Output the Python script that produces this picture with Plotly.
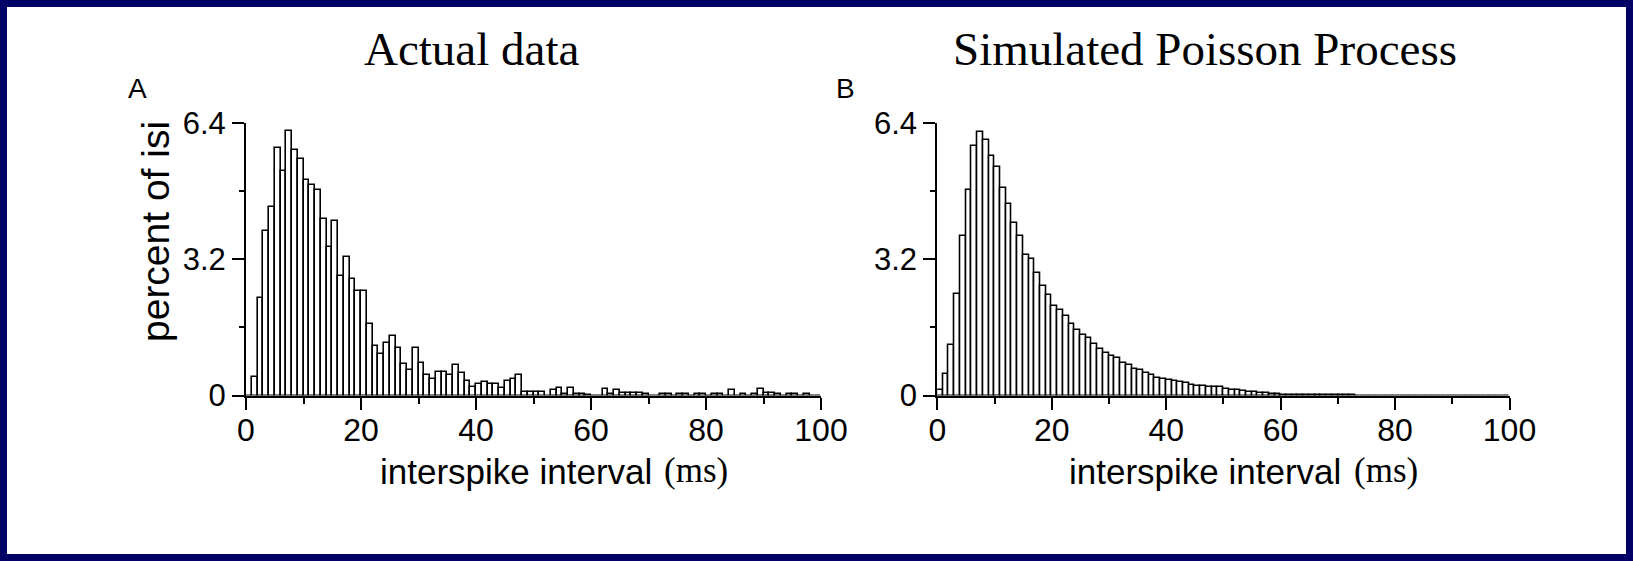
import plotly.graph_objects as go

W, H = 1633, 561

# ---------------- data ----------------
bin_left = list(range(100))  # 1 ms bins, 0..99 ms

actual_pct = [0, 0.43, 2.29, 3.87, 4.43, 5.82, 5.27, 6.22, 5.77, 5.56,
              5.06, 4.95, 4.83, 4.15, 3.48, 4.09, 2.81, 3.25, 2.73, 2.46,
              2.46, 1.68, 1.17, 0.98, 1.23, 1.39, 1.11, 0.73, 0.60, 1.12,
              0.77, 0.49, 0.39, 0.56, 0.56, 0.49, 0.71, 0.54, 0.33, 0.21,
              0.27, 0.31, 0.27, 0.27, 0.18, 0.34, 0.39, 0.49, 0.08, 0.08,
              0.08, 0.08, 0, 0.12, 0.18, 0.04, 0.18, 0.04, 0.04, 0.02,
              0, 0, 0.16, 0.03, 0.12, 0.05, 0.05, 0.05, 0.05, 0.04,
              0, 0, 0.04, 0.04, 0, 0.04, 0.04, 0, 0.04, 0.04,
              0, 0.04, 0.04, 0, 0.12, 0, 0.04, 0, 0.04, 0.16,
              0.05, 0.05, 0.04, 0, 0.04, 0.04, 0, 0.04, 0, 0]

poisson_pct = [0.12, 0.51, 1.18, 2.38, 3.75, 4.82, 5.87, 6.18, 5.99, 5.62,
               5.37, 4.87, 4.49, 4.04, 3.75, 3.31, 3.20, 2.87, 2.58, 2.37,
               2.10, 2.00, 1.87, 1.69, 1.55, 1.41, 1.35, 1.22, 1.10, 0.99,
               0.93, 0.88, 0.77, 0.71, 0.62, 0.59, 0.53, 0.48, 0.42, 0.38,
               0.37, 0.35, 0.31, 0.30, 0.24, 0.23, 0.22, 0.21, 0.20, 0.19,
               0.15, 0.13, 0.12, 0.10, 0.09, 0.09, 0.07, 0.05, 0.04, 0.03,
               0.02, 0.02, 0.02, 0.02, 0.02, 0.02, 0.01, 0.01, 0.01, 0.01,
               0.01, 0.01, 0.01, 0, 0, 0, 0, 0, 0, 0,
               0, 0, 0, 0, 0, 0, 0, 0, 0, 0,
               0, 0, 0, 0, 0, 0, 0, 0, 0, 0]

y_tickvals = [0, 3.2, 6.4]
y_ticktext = ["0", "3.2", "6.4"]
y_minor = [1.6, 4.8]
x_tickvals = [0, 20, 40, 60, 80, 100]
x_ticktext = ["0", "20", "40", "60", "80", "100"]

panel_titles = ["Actual data", "Simulated Poisson Process"]
panel_letters = ["A", "B"]
x_title = "interspike interval"
x_unit = "(ms)"
y_title = "percent of isi"

# ---------------- layout helpers (pixels -> paper) ----------------
def px(x):
    return x / W

def py(y):
    return 1 - y / H

SANS = "Liberation Sans, Arial, sans-serif"
SERIF = "Liberation Serif, Times New Roman, serif"

fig = go.Figure()

for k, vals in enumerate([actual_pct, poisson_pct]):
    xa = "x" if k == 0 else "x2"
    ya = "y" if k == 0 else "y2"
    fig.add_trace(go.Bar(
        x=[b + 0.5 for b in bin_left], y=vals, width=1,
        marker=dict(color="white", line=dict(color="black", width=1.6)),
        xaxis=xa, yaxis=ya, showlegend=False, hoverinfo="x+y"))

domA = [px(246), px(821)]
domB = [px(937.3), px(1509.5)]
domY = [py(395.5), py(123)]

def xaxis_cfg(dom, anchor):
    return dict(domain=dom, anchor=anchor, range=[0, 100], automargin=False,
                tickmode="array", tickvals=x_tickvals, ticktext=x_ticktext,
                ticks="outside", ticklen=12, tickwidth=2, tickcolor="black",
                showline=True, linewidth=2, linecolor="black",
                showgrid=False, zeroline=False,
                tickfont=dict(family=SANS, size=32, color="black"),
                ticklabelstandoff=-7,
                minor=dict(tickmode="array", tickvals=[10, 30, 50, 70, 90],
                           ticks="outside", ticklen=6, tickwidth=2,
                           tickcolor="black", showgrid=False))

def yaxis_cfg(dom, anchor):
    return dict(domain=dom, anchor=anchor, range=[0, 6.4], automargin=False,
                tickmode="array", tickvals=y_tickvals, ticktext=y_ticktext,
                ticks="outside", ticklen=12, tickwidth=2, tickcolor="black",
                showline=True, linewidth=2, linecolor="black",
                showgrid=False, zeroline=False,
                tickfont=dict(family=SANS, size=31, color="black"),
                minor=dict(tickmode="array", tickvals=y_minor,
                           ticks="outside", ticklen=5, tickwidth=2,
                           tickcolor="black", showgrid=False))

annotations = []
# panel titles
for cx, t in zip([471, 1205], panel_titles):
    annotations.append(dict(text=t, x=px(cx), y=py(49), xref="paper", yref="paper",
                            xanchor="center", yanchor="middle", showarrow=False,
                            font=dict(family=SERIF, size=47, color="black")))
# panel letters
for cx, t in zip([137, 845], panel_letters):
    annotations.append(dict(text=t, x=px(cx), y=py(88), xref="paper", yref="paper",
                            xanchor="center", yanchor="middle", showarrow=False,
                            font=dict(family=SANS, size=28, color="black")))
# x axis titles
for x0, x1 in [(378, 662), (1067, 1352)]:
    annotations.append(dict(text=x_title, x=px(x0), y=py(471), xref="paper", yref="paper",
                            xanchor="left", yanchor="middle", showarrow=False,
                            font=dict(family=SANS, size=35, color="black")))
    annotations.append(dict(text=x_unit, x=px(x1), y=py(470), xref="paper", yref="paper",
                            xanchor="left", yanchor="middle", showarrow=False,
                            font=dict(family=SERIF, size=35, color="black")))
# y axis title (panel A only)
annotations.append(dict(text=y_title, x=px(155), y=py(232), xref="paper", yref="paper",
                        xanchor="center", yanchor="middle", showarrow=False, textangle=-90,
                        font=dict(family=SANS, size=39, color="black")))

fig.update_layout(
    width=W, height=H,
    margin=dict(l=0, r=0, t=0, b=0, pad=0, autoexpand=False),
    paper_bgcolor="#000066", plot_bgcolor="white",
    xaxis=xaxis_cfg(domA, "y"), yaxis=yaxis_cfg(domY, "x"),
    xaxis2=xaxis_cfg(domB, "y2"), yaxis2=yaxis_cfg(domY, "x2"),
    annotations=annotations,
    shapes=[dict(type="rect", xref="paper", yref="paper", layer="below",
                 x0=px(7), x1=px(1626), y0=py(554), y1=py(7),
                 fillcolor="white", line=dict(width=0))],
    bargap=0,
)

post = ("document.documentElement.style.margin='0';"
        "document.documentElement.style.padding='0';"
        "document.documentElement.style.overflow='hidden';"
        "document.body.style.margin='0';"
        "document.body.style.padding='0';"
        "document.body.style.overflow='hidden';"
        "document.body.style.background='#000066';")

fig.write_html("out.html", config={"responsive": False, "displayModeBar": False},
               post_script=post)
